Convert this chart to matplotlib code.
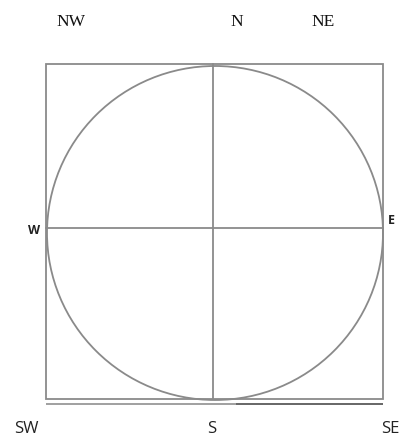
import matplotlib
matplotlib.use("Agg")
import matplotlib.pyplot as plt
from matplotlib.patches import Ellipse, Rectangle

# Compass direction labels
top_labels = ["NW", "N", "NE"]
side_labels = ["W", "E"]
bottom_labels = ["SW", "S", "SE"]

W, H = 401, 438
fig = plt.figure(figsize=(W / 100, H / 100), dpi=100)
ax = fig.add_axes([0, 0, 1, 1])
ax.set_xlim(0, W)
ax.set_ylim(H, 0)
ax.axis("off")

lc = "#8a8a8a"
lw = 1.3

# square
ax.add_patch(Rectangle((46, 64), 337, 335, fill=False, ec=lc, lw=lw))
# second bottom line
ax.plot([46, 236], [404, 404], color="#a0a0a0", lw=1.4, solid_capstyle="butt")
ax.plot([236, 383], [404, 404], color="#666666", lw=1.4, solid_capstyle="butt")
# circle
ax.add_patch(Ellipse((215, 233), 336, 334, fill=False, ec=lc, lw=lw))
# cross lines
ax.plot([213, 213], [64, 399], color=lc, lw=lw)
ax.plot([46, 383], [228, 228], color=lc, lw=lw)

tc = "#222222"
serif = ["Liberation Serif", "DejaVu Serif"]
sans = ["Open Sans", "DejaVu Sans"]

top_x = [71, 237, 323]
for lab, x in zip(top_labels, top_x):
    ax.text(x, 22, lab, ha="center", va="center", fontsize=12.5, family=serif, color="#111111")

ax.text(34, 231, side_labels[0], ha="center", va="center", fontsize=9, family=sans, color=tc, fontweight="bold")
ax.text(391, 220, side_labels[1], ha="center", va="center", fontsize=9, family=sans, color=tc, fontweight="bold")

bot_x = [26, 212, 390]
for lab, x in zip(bottom_labels, bot_x):
    ax.text(x, 429, lab, ha="center", va="center", fontsize=12, family=sans, color=tc)

fig.savefig("out.png", dpi=100)
